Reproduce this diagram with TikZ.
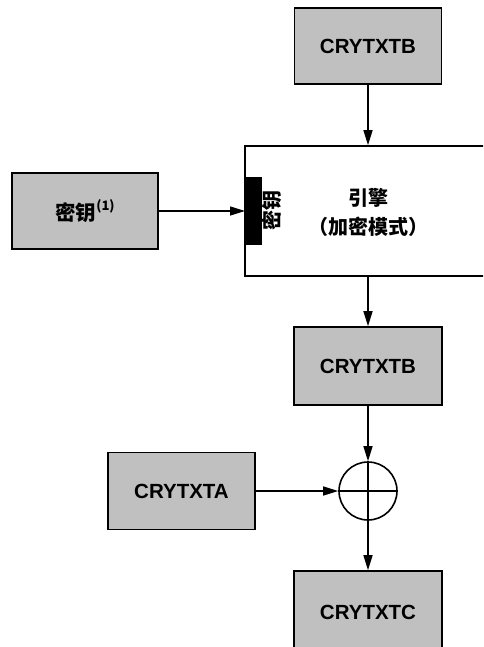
\documentclass[tikz,border=0pt]{standalone}
\usepackage{fontspec}
\setmainfont{Liberation Sans}
\newfontfamily\cjk{Noto Sans CJK SC}
\usetikzlibrary{arrows.meta}
\begin{document}
\begin{tikzpicture}[x=1pt,y=-1pt,
  regbox/.style={draw=black,line width=1.6pt,fill={rgb,255:red,192;green,192;blue,192},
    inner sep=0pt,font=\fontsize{20.5}{23}\selectfont\bfseries},
  flow/.style={line width=1.4pt,-{Triangle[length=15pt,width=9pt]}},
  plain/.style={line width=1.4pt}]
\useasboundingbox (0,0) rectangle (483,647);
\clip (0,0) rectangle (483,647);

% registers
\node[regbox,minimum width=147pt,minimum height=76pt] (topB) at (368,46) {CRYTXTB};
\node[regbox,minimum width=146pt,minimum height=76pt] (key) at (85,211)
  {\cjk\bfseries 密钥\raisebox{0.5em}{\fontsize{13}{15}\selectfont\bfseries(1)}};
\node[regbox,minimum width=148pt,minimum height=78pt] (midB) at (368,366) {CRYTXTB};
\node[regbox,minimum width=147pt,minimum height=77pt] (ctA) at (181.5,491) {CRYTXTA};
\node[regbox,minimum width=148pt,minimum height=82pt] (ctC) at (368,612) {CRYTXTC};

% engine block (runs off the right edge)
\node[draw=black,line width=1.6pt,fill=white,minimum width=255pt,minimum height=130pt,
  inner sep=0pt] (eng) at (372.5,211) {};
\node[font=\cjk\bfseries\fontsize{20}{29}\selectfont,align=center] (engtxt) at (368,212.5)
  {引擎\\（加密模式）};
% key port on the engine
\node[font=\cjk\bfseries\fontsize{20}{22}\selectfont,rotate=90,inner sep=0pt] (porttxt) at (272,210) {密钥};
\node[fill=black,minimum width=17pt,minimum height=68pt,inner sep=0pt,anchor=north west]
  (port) at (245,177) {};

% XOR operator
\node[draw=black,line width=1.6pt,circle,minimum size=58pt,inner sep=0pt] (xor) at (368,491) {};
\draw[plain] (xor.north) -- (xor.south);
\draw[plain] (xor.west) -- (xor.east);

% data flow
\draw[flow] (topB.south) -- (eng.north -| topB.south);
\draw[flow] (key.east) -- (port.west |- key.east);
\draw[flow] (eng.south -| midB.north) -- (midB.north);
\draw[flow] (midB.south) -- (xor.north);
\draw[flow] (ctA.east) -- (xor.west);
\draw[flow] (xor.south) -- (ctC.north);
\end{tikzpicture}
\end{document}
